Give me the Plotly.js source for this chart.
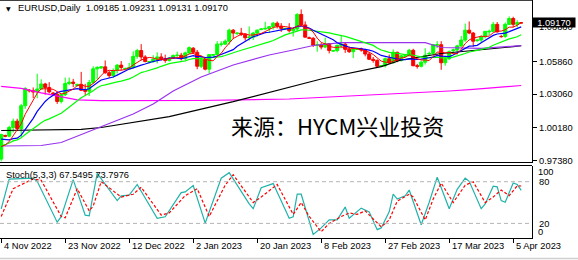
<!DOCTYPE html>
<html><head><meta charset="utf-8">
<script src="https://cdn.plot.ly/plotly-3.0.1.min.js"></script>
<style>html,body{margin:0;padding:0;background:#fff;overflow:hidden}#chart{width:578px;height:260px}</style>
</head><body><div id="chart"></div>
<script>
// ---- daily bars (bar number 0 = 4 Nov 2022, incl. Sunday bars) ----
const openP  = [0.9748,0.9950,0.9945,1.0020,1.0074,1.0010,1.0206,1.0340,1.0335,1.0325,1.0350,1.0393,1.0363,1.0315,1.0305,1.0243,1.0301,1.0397,1.0409,1.0380,1.0390,1.0339,1.0331,1.0406,1.0523,1.0530,1.0540,1.0490,1.0465,1.0508,1.0555,1.0520,1.0525,1.0535,1.0630,1.0680,1.0625,1.0580,1.0585,1.0605,1.0625,1.0610,1.0595,1.0615,1.0638,1.0640,1.0610,1.0660,1.0700,1.0665,1.0545,1.0605,1.0520,1.0640,1.0645,1.0735,1.0735,1.0760,1.0855,1.0825,1.0830,1.0820,1.0790,1.0795,1.0830,1.0860,1.0865,1.0870,1.0885,1.0915,1.0890,1.0865,1.0870,1.0850,1.0865,1.0990,1.0900,1.0790,1.0785,1.0725,1.0730,1.0710,1.0740,1.0675,1.0680,1.0725,1.0735,1.0690,1.0670,1.0690,1.0695,1.0685,1.0650,1.0605,1.0595,1.0545,1.0550,1.0610,1.0575,1.0665,1.0595,1.0630,1.0635,1.0682,1.0550,1.0545,1.0580,1.0650,1.0655,1.0725,1.0730,1.0575,1.0610,1.0680,1.0685,1.0720,1.0770,1.0855,1.0830,1.0765,1.0770,1.0800,1.0840,1.0845,1.0905,1.0800,1.0800,1.0905,1.0955,1.0905,1.09185];
const highP  = [0.9965,0.9958,1.0034,1.0095,1.0095,1.0222,1.0365,1.0350,1.0363,1.0481,1.0433,1.0403,1.0409,1.0325,1.0320,1.0313,1.0448,1.0448,1.0437,1.0395,1.0497,1.0394,1.0428,1.0545,1.0545,1.0545,1.0595,1.0505,1.0527,1.0565,1.0590,1.0535,1.0575,1.0673,1.0695,1.0735,1.0640,1.0590,1.0640,1.0665,1.0657,1.0645,1.0625,1.0645,1.0670,1.0660,1.0670,1.0715,1.0710,1.0685,1.0630,1.0610,1.0650,1.0650,1.0760,1.0760,1.0775,1.0868,1.0865,1.0835,1.0875,1.0825,1.0887,1.0840,1.0860,1.0870,1.0927,1.0890,1.0925,1.0930,1.0915,1.0875,1.0915,1.0880,1.1000,1.1033,1.0930,1.0800,1.0795,1.0760,1.0745,1.0790,1.0745,1.0685,1.0730,1.0805,1.0745,1.0715,1.0705,1.0700,1.0705,1.0695,1.0665,1.0625,1.0605,1.0555,1.0620,1.0645,1.0690,1.0670,1.0640,1.0640,1.0695,1.0695,1.0565,1.0590,1.0700,1.0670,1.0737,1.0760,1.0760,1.0630,1.0680,1.0695,1.0730,1.0805,1.0912,1.0930,1.0840,1.0775,1.0810,1.0845,1.0860,1.0925,1.0925,1.0815,1.0920,1.0973,1.0970,1.0940,1.09231];
const lowP   = [0.9730,0.9935,0.9935,0.9977,0.9990,0.9935,1.0180,1.0320,1.0271,1.0270,1.0344,1.0302,1.0312,1.0300,1.0222,1.0226,1.0290,1.0382,1.0366,1.0370,1.0332,1.0290,1.0290,1.0393,1.0430,1.0525,1.0480,1.0445,1.0445,1.0483,1.0510,1.0515,1.0515,1.0525,1.0610,1.0595,1.0580,1.0570,1.0575,1.0570,1.0595,1.0575,1.0585,1.0610,1.0612,1.0595,1.0600,1.0650,1.0650,1.0520,1.0530,1.0510,1.0483,1.0635,1.0640,1.0715,1.0730,1.0730,1.0780,1.0815,1.0805,1.0765,1.0765,1.0770,1.0800,1.0855,1.0860,1.0830,1.0860,1.0870,1.0840,1.0860,1.0835,1.0800,1.0845,1.0895,1.0790,1.0780,1.0710,1.0670,1.0690,1.0700,1.0655,1.0670,1.0665,1.0700,1.0660,1.0660,1.0615,1.0685,1.0670,1.0630,1.0600,1.0575,1.0535,1.0540,1.0535,1.0565,1.0570,1.0580,1.0585,1.0625,1.0630,1.0545,1.0525,1.0535,1.0560,1.0640,1.0650,1.0700,1.0515,1.0550,1.0600,1.0665,1.0645,1.0710,1.0755,1.0820,1.0713,1.0755,1.0745,1.0785,1.0810,1.0840,1.0835,1.0790,1.0790,1.0900,1.0880,1.0880,1.09131];
const closeP = [0.9960,0.9945,1.0020,1.0074,1.0010,1.0206,1.0355,1.0335,1.0325,1.0350,1.0393,1.0363,1.0325,1.0305,1.0243,1.0301,1.0397,1.0409,1.0398,1.0390,1.0339,1.0331,1.0406,1.0523,1.0535,1.0540,1.0490,1.0465,1.0508,1.0555,1.0535,1.0525,1.0535,1.0630,1.0680,1.0625,1.0585,1.0585,1.0605,1.0625,1.0610,1.0595,1.0615,1.0638,1.0640,1.0610,1.0660,1.0705,1.0665,1.0545,1.0605,1.0520,1.0645,1.0645,1.0735,1.0735,1.0760,1.0855,1.0830,1.0830,1.0820,1.0790,1.0795,1.0830,1.0855,1.0865,1.0870,1.0885,1.0915,1.0890,1.0870,1.0870,1.0850,1.0865,1.0990,1.0900,1.0795,1.0785,1.0725,1.0730,1.0710,1.0740,1.0680,1.0680,1.0725,1.0735,1.0690,1.0670,1.0695,1.0695,1.0685,1.0650,1.0605,1.0595,1.0545,1.0550,1.0610,1.0575,1.0665,1.0595,1.0635,1.0635,1.0682,1.0550,1.0545,1.0580,1.0640,1.0655,1.0730,1.0730,1.0575,1.0610,1.0670,1.0685,1.0720,1.0770,1.0855,1.0830,1.0760,1.0770,1.0800,1.0845,1.0845,1.0905,1.0840,1.0800,1.0905,1.0955,1.0905,1.0920,1.09170];

// ---- moving averages (one value per bar) ----
const ma5  = [0.98564,0.98690,0.98980,0.99498,1.00018,1.00510,1.01330,1.01960,1.02462,1.03142,1.03516,1.03532,1.03512,1.03472,1.03258,1.03074,1.03142,1.03310,1.03496,1.03790,1.03866,1.03734,1.03728,1.03978,1.04268,1.04670,1.04988,1.05106,1.05076,1.05116,1.05106,1.05176,1.05316,1.05560,1.05810,1.05990,1.06110,1.06210,1.06160,1.06050,1.06020,1.06040,1.06100,1.06166,1.06196,1.06196,1.06326,1.06506,1.06560,1.06370,1.06360,1.06080,1.05960,1.05920,1.06300,1.06560,1.07040,1.07460,1.07830,1.08020,1.08190,1.08250,1.08130,1.08130,1.08180,1.08270,1.08430,1.08610,1.08780,1.08850,1.08860,1.08860,1.08790,1.08690,1.08890,1.08950,1.08800,1.08670,1.08390,1.07870,1.07490,1.07380,1.07170,1.07080,1.07070,1.07120,1.07020,1.07000,1.07030,1.06970,1.06870,1.06790,1.06660,1.06460,1.06160,1.05890,1.05810,1.05750,1.05890,1.05990,1.06160,1.06210,1.06424,1.06194,1.06094,1.05984,1.05994,1.05940,1.06300,1.06670,1.06660,1.06600,1.06630,1.06540,1.06520,1.06910,1.07400,1.07720,1.07870,1.07970,1.08030,1.08010,1.08040,1.08330,1.08470,1.08470,1.08590,1.08810,1.08810,1.08970,1.09204];
const ma10 = [0.99205,0.99185,0.99127,0.99236,0.99281,0.99537,1.00010,1.00470,1.00980,1.01580,1.02013,1.02431,1.02736,1.02967,1.03200,1.03295,1.03337,1.03411,1.03484,1.03524,1.03470,1.03438,1.03519,1.03737,1.04029,1.04268,1.04361,1.04417,1.04527,1.04692,1.04888,1.05082,1.05211,1.05318,1.05463,1.05548,1.05643,1.05763,1.05860,1.05930,1.06005,1.06075,1.06155,1.06163,1.06123,1.06108,1.06183,1.06303,1.06363,1.06283,1.06278,1.06203,1.06233,1.06240,1.06335,1.06460,1.06560,1.06710,1.06875,1.07160,1.07375,1.07645,1.07795,1.07980,1.08100,1.08230,1.08340,1.08370,1.08455,1.08515,1.08565,1.08645,1.08700,1.08735,1.08870,1.08905,1.08830,1.08730,1.08540,1.08380,1.08220,1.08090,1.07920,1.07735,1.07470,1.07305,1.07200,1.07085,1.07055,1.07020,1.06995,1.06905,1.06830,1.06745,1.06565,1.06380,1.06300,1.06205,1.06175,1.06075,1.06025,1.06010,1.06087,1.06042,1.06042,1.06072,1.06102,1.06182,1.06247,1.06382,1.06322,1.06297,1.06285,1.06420,1.06595,1.06785,1.07000,1.07175,1.07205,1.07245,1.07470,1.07705,1.07880,1.08100,1.08220,1.08250,1.08300,1.08425,1.08570,1.08720,1.08837];
const ma20 = [0.98640,0.98720,0.98870,0.99045,0.99132,0.99307,0.99597,0.99875,1.00108,1.00353,1.00609,1.00808,1.00932,1.01102,1.01241,1.01416,1.01674,1.01941,1.02232,1.02552,1.02742,1.02935,1.03128,1.03352,1.03615,1.03782,1.03849,1.03914,1.04006,1.04108,1.04179,1.04260,1.04365,1.04528,1.04746,1.04908,1.05002,1.05090,1.05194,1.05311,1.05447,1.05579,1.05683,1.05740,1.05793,1.05828,1.05913,1.06033,1.06112,1.06107,1.06142,1.06139,1.06194,1.06202,1.06229,1.06284,1.06372,1.06507,1.06619,1.06722,1.06827,1.06924,1.07014,1.07110,1.07218,1.07345,1.07450,1.07540,1.07665,1.07838,1.07970,1.08145,1.08248,1.08358,1.08485,1.08568,1.08585,1.08550,1.08498,1.08448,1.08393,1.08368,1.08310,1.08235,1.08170,1.08105,1.08015,1.07908,1.07798,1.07700,1.07608,1.07498,1.07375,1.07240,1.07018,1.06843,1.06750,1.06645,1.06615,1.06548,1.06510,1.06458,1.06459,1.06394,1.06304,1.06226,1.06201,1.06194,1.06211,1.06229,1.06174,1.06154,1.06186,1.06231,1.06319,1.06429,1.06551,1.06679,1.06726,1.06814,1.06896,1.07001,1.07083,1.07260,1.07408,1.07518,1.07650,1.07800,1.07888,1.07983,1.08154];
// slow averages, read at sample bars
const purpleX = [0,10,15,20,25,33,38,43,46,50,58,67,73,78,85,100,106,110,120,130];
const purpleY = [0.98607,0.98650,0.98907,0.99594,1.00238,1.01354,1.02212,1.03328,1.03843,1.04530,1.05560,1.06418,1.06847,1.07233,1.07474,1.07474,1.07474,1.07062,1.06993,1.07216];
const blackX  = [0,15,20,25,42,58,70,80,95,100,110,120,128,130];
const blackY  = [0.99937,0.99980,1.00040,1.00195,1.01122,1.02409,1.03474,1.04358,1.05414,1.05989,1.06547,1.06847,1.07130,1.07216];
const magX    = [0,5,10,15,19,25,50,72,88,100,112,118,130];
const magY    = [1.03730,1.03560,1.03170,1.02810,1.02560,1.02495,1.02512,1.02641,1.02899,1.03113,1.03328,1.03474,1.03800];

// ---- Stochastic(5,3,3) ----
const kX = [0,2,8,9,14,15,18,21,22,24,29,30,32,34,39,41,45,46,48,51,55,57,62,63,65,68,72,73,74,75,78,80,82,84,86,87,90,92,94,95,97,98,99,101,102,105,107,109,112,114,116,117,120,121,123,124,125,126,128,129,130];
const kY = [41,83.8,85,80.6,21.8,29.6,82.9,31.9,31,92,52.8,59.7,60.6,76,27.3,29.6,64.3,65.3,74.5,20.4,85,93,48,41.2,71.3,77.3,27.3,29.6,62,62,4.2,13.5,25,25,43.5,27.3,42,36.6,11,13.5,36.6,62,55,59.7,68,18,50.4,86.5,41.2,69,85,80.6,41.2,48,73.6,72.6,52.8,50.4,78.2,76,67.5495];
const dX = [0,3,8,10,15,16,19,22,23,25,30,33,35,40,42,46,49,52,56,58,63,65,69,73,75,77,80,82,85,87,89,91,95,97,99,102,103,106,108,110,113,116,118,121,123,125,127,129,130];
const dY = [30,70,84,82,30,28,70,38,45,80,58,62,72,32,35,60,70,30,75,90,50,58,76,33,50,30,8,20,30,35,33,38,15,25,52,62,58,25,55,78,50,75,80,50,58,68,60,74,73.7976];

// ---- axis labels ----
const dateTickBars = [0,16,32,48,64,80,96,112,128];
const dateTickText = ['4 Nov 2022','23 Nov 2022','12 Dec 2022','2 Jan 2023','20 Jan 2023','8 Feb 2023','27 Feb 2023','17 Mar 2023','5 Apr 2023'];
const priceTicks = [0.97380,1.00180,1.03060,1.05860,1.08880];
const lastPrice = 1.09170;
const titleText = 'EURUSD,Daily\u00a0\u00a01.09185 1.09231 1.09131 1.09170';
const stochText = 'Stoch(5,3,3) 67.5495 73.7976';
const watermark = '来源：HYCM兴业投资';

const bars = closeP.map((_, i) => i);
const F = 'Liberation Sans, Arial, sans-serif';

const traces = [
  {type:'candlestick', x:bars, open:openP, high:highP, low:lowP, close:closeP,
   xaxis:'x', yaxis:'y', whiskerwidth:0,
   increasing:{line:{color:'#00ff00',width:1}, fillcolor:'#00ff00'},
   decreasing:{line:{color:'#ff0000',width:1}, fillcolor:'#ff0000'}, hoverinfo:'skip'},
  {type:'scatter', mode:'lines', x:magX, y:magY, line:{color:'#ff00ff',width:1.2}, yaxis:'y'},
  {type:'scatter', mode:'lines', x:blackX, y:blackY, line:{color:'#000000',width:1.2}, yaxis:'y'},
  {type:'scatter', mode:'lines', x:purpleX, y:purpleY, line:{color:'#9932ee',width:1.2}, yaxis:'y'},
  {type:'scatter', mode:'lines', x:bars, y:ma20, line:{color:'#00ff00',width:1.2}, yaxis:'y'},
  {type:'scatter', mode:'lines', x:bars, y:ma10, line:{color:'#0000ff',width:1.2}, yaxis:'y'},
  {type:'scatter', mode:'lines', x:bars, y:ma5,  line:{color:'#ff0000',width:1}, yaxis:'y'},
  {type:'scatter', mode:'lines', x:kX, y:kY, line:{color:'#20b2aa',width:1.2}, yaxis:'y2'},
  {type:'scatter', mode:'lines', x:dX, y:dY, line:{color:'#ff0000',width:1.2,dash:'3px,2px'}, yaxis:'y2'}
];

const annotations = dateTickBars.map((b, i) => ({
  x:b, xref:'x', y:-0.034, yref:'paper', xanchor:'left', yanchor:'middle', xshift:1,
  text:dateTickText[i], showarrow:false, font:{family:F,size:9.3,color:'#000'}
}));
annotations.push(
  {x:16/532, xref:'paper', y:(238-8.5)/238, yref:'paper', xanchor:'left', yanchor:'middle', text:titleText, showarrow:false, font:{family:F,size:9.3,color:'#000'}},
  {x:3.5/532, xref:'paper', y:(238-9)/238, yref:'paper', xanchor:'left', yanchor:'middle', text:'▼', showarrow:false, font:{family:'DejaVu Sans',size:6,color:'#000'}},
  {x:4/532, xref:'paper', y:(238-175)/238, yref:'paper', xanchor:'left', yanchor:'middle', text:stochText, showarrow:false, font:{family:F,size:9.3,color:'#000'}},
  {x:337.5/532, xref:'paper', y:(238-125)/238, yref:'paper', xanchor:'center', yanchor:'middle', text:watermark, showarrow:false, font:{family:'Noto Sans CJK SC',size:22,color:'#000'}},
  {x:1, xref:'paper', y:lastPrice, yref:'y', xanchor:'left', yanchor:'middle', text:lastPrice.toFixed(5), showarrow:false, bgcolor:'#000', width:42, height:9, borderpad:0, font:{family:F,size:9.3,color:'#fff'}},
  {x:1, xref:'paper', y:100, yref:'y2', xanchor:'left', yanchor:'middle', xshift:4, yshift:-4.2, text:'100', showarrow:false, font:{family:F,size:9.3,color:'#000'}},
  {x:1, xref:'paper', y:0, yref:'y2', xanchor:'left', yanchor:'middle', xshift:4, yshift:5.2, text:'0', showarrow:false, font:{family:F,size:9.3,color:'#000'}}
);

const mainBottom = (238-162.5)/238, stochTop = (238-165.5)/238;
const shapes = [
  {type:'line', xref:'paper', yref:'paper', x0:0, x1:1, y0:1, y1:1, line:{color:'#000',width:1.5}},
  {type:'line', xref:'paper', yref:'paper', x0:0, x1:1, y0:mainBottom, y1:mainBottom, line:{color:'#000',width:1.2}},
  {type:'line', xref:'paper', yref:'paper', x0:0, x1:1, y0:stochTop, y1:stochTop, line:{color:'#000',width:1.2}},
  {type:'line', xref:'paper', yref:'y2', x0:0, x1:1, y0:80, y1:80, line:{color:'#b4b4b4',width:1,dash:'4px,3px'}},
  {type:'line', xref:'paper', yref:'y2', x0:0, x1:1, y0:20, y1:20, line:{color:'#b4b4b4',width:1,dash:'4px,3px'}},
  {type:'line', xref:'paper', yref:'paper', x0:0, x1:578/532, y0:-20.5/238, y1:-20.5/238, line:{color:'#d0d0d0',width:1.5}}
];

const layout = {
  width:578, height:260, margin:{l:0,r:46,t:0,b:22},
  paper_bgcolor:'#fff', plot_bgcolor:'#fff', showlegend:false,
  boxgap:0.25, boxgroupgap:0,
  xaxis:{range:[-0.3,132.7], anchor:'y2', showgrid:false, zeroline:false, showline:true, linecolor:'#000', linewidth:1.2,
         tickmode:'array', tickvals:dateTickBars, ticks:'outside', ticklen:4, tickcolor:'#000', showticklabels:false,
         rangeslider:{visible:false}, fixedrange:true},
  yaxis:{domain:[mainBottom,1], range:[0.97190,1.11139], side:'right', showgrid:false, zeroline:false,
         showline:true, linecolor:'#000', linewidth:1.2, tickmode:'array', tickvals:priceTicks,
         ticktext:priceTicks.map(v=>v.toFixed(5)), ticks:'outside', ticklen:4, tickcolor:'#000',
         tickfont:{family:F,size:9.3,color:'#000'}},
  yaxis2:{domain:[0,stochTop], range:[-1.0,103.3], side:'right', showgrid:false, zeroline:false,
          showline:true, linecolor:'#000', linewidth:1.2, tickmode:'array', tickvals:[80,20],
          ticks:'outside', ticklen:4, tickcolor:'rgba(0,0,0,0)', tickfont:{family:F,size:9.3,color:'#000'}},
  annotations, shapes
};
Plotly.newPlot('chart', traces, layout, {staticPlot:true, displayModeBar:false});
</script></body></html>
